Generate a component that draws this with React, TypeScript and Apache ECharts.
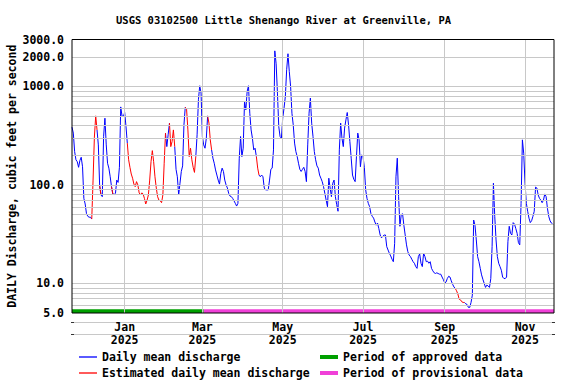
import React, { useEffect, useRef } from 'react';
import * as echarts from 'echarts';

const TITLE = 'USGS 03102500 Little Shenango River at Greenville, PA';
const Y_NAME = 'DAILY Discharge, cubic feet per second';
const START_DATE = '2024-11-22';
const END_DATE = '2025-11-23';

// daily mean discharge (cfs), one value per day starting at START_DATE
const discharge: number[] = [
  386, 336, 218, 180, 172, 151, 177, 191, 153, 73,
  64, 51, 48, 47, 47, 45, 112, 306, 503, 362,
  255, 98, 79, 76, 310, 476, 255, 166, 148, 121,
  96, 81, 80, 82, 112, 106, 151, 620, 500, 495,
  544, 392, 266, 180, 151, 129, 117, 102, 96, 108,
  100, 83, 79, 83, 81, 73, 64, 70, 79, 112,
  172, 223, 172, 121, 93, 76, 70, 69, 66, 79,
  166, 336, 245, 323, 424, 245, 276, 362, 245, 144,
  121, 79, 104, 137, 156, 407, 616, 589, 362, 194,
  236, 180, 151, 134, 194, 323, 733, 1017, 857, 310,
  255, 236, 298, 503, 424, 287, 227, 187, 166, 142,
  126, 112, 102, 131, 148, 137, 112, 100, 93, 82,
  77, 76, 73, 69, 65, 61, 65, 187, 310, 194,
  236, 703, 579, 889, 1017, 535, 362, 298, 227, 236,
  194, 148, 126, 121, 126, 121, 93, 89, 89, 89,
  112, 144, 148, 227, 2300, 1700, 857, 392, 310, 298,
  476, 602, 792, 1480, 2150, 1420, 1000, 535, 407, 266,
  218, 194, 166, 144, 137, 144, 151, 137, 108, 255,
  535, 762, 424, 310, 218, 180, 156, 148, 126, 117,
  108, 96, 82, 70, 60, 117, 93, 76, 104, 112,
  76, 63, 54, 227, 424, 298, 245, 378, 458, 544,
  407, 276, 187, 126, 114, 108, 194, 336, 287, 153,
  202, 194, 150, 89, 73, 65, 60, 51, 48, 46,
  42, 39, 41, 36, 31, 29, 30, 31, 31, 23.6,
  21.8, 20.2, 19, 17.6, 16.6, 25.5, 121, 187, 76, 38,
  50, 51, 39, 31, 24.6, 21, 19.4, 18.7, 17.6, 16.6,
  16, 14.8, 14.2, 18.7, 19.9, 16, 14.8, 20.2, 18.7, 16.6,
  16.8, 16, 16.6, 14.2, 13.4, 12.8, 12.6, 12.8, 12.6, 12.4,
  12.4, 11.6, 10.9, 10.1, 10.3, 11.2, 11.8, 11.6, 10.6, 9.8,
  9.2, 8.9, 8.4, 7.8, 6.9, 6.8, 6.5, 6.4, 6.4, 6.2,
  6.1, 5.7, 5.7, 6.4, 7.6, 44, 39, 27.6, 18.7, 16.6,
  14.2, 12.2, 11, 10, 9.1, 9.6, 9.4, 9.1, 11.2, 23.6,
  104, 48, 27.6, 18.7, 16, 14.8, 13.6, 11.6, 11.2, 11.2,
  11.6, 26.5, 38, 32.2, 31, 41.4, 40, 36, 32.2, 25.9,
  24.6, 65, 287, 210, 104, 65, 54, 46, 41.4, 43.3,
  48, 54, 95, 93, 79, 73, 70, 66, 70, 81,
  76, 58, 48, 43.3, 41, 40,
];

// periods of estimated daily values (inclusive)
const estimatedRanges: [string, string][] = [
  ['2024-12-07', '2024-12-11'],
  ['2024-12-13', '2024-12-14'],
  ['2024-12-22', '2024-12-23'],
  ['2025-01-03', '2025-02-01'],
  ['2025-02-04', '2025-02-08'],
  ['2025-02-16', '2025-02-24'],
  ['2025-03-05', '2025-03-08'],
  ['2025-04-11', '2025-04-13'],
  ['2025-09-09', '2025-09-16'],
];

const approvedPeriod: [string, string] = ['2024-11-22', '2025-03-02'];
const provisionalPeriod: [string, string] = ['2025-03-02', '2025-11-23'];

const monthTicks = ['2025-01-01', '2025-03-01', '2025-05-01', '2025-07-01', '2025-09-01', '2025-11-01'];
const MONTHS = ['Jan', 'Feb', 'Mar', 'Apr', 'May', 'Jun', 'Jul', 'Aug', 'Sep', 'Oct', 'Nov', 'Dec'];

const yLabelValues = [5, 10, 100, 1000, 2000, 3000];
const yGridValues = [
  6, 7, 8, 9, 10, 20, 30, 40, 50, 60, 70, 80, 90,
  100, 200, 300, 400, 500, 600, 700, 800, 900, 1000, 2000,
];

const FONT = 'DejaVu Sans Mono';

function toTime(s: string): number {
  const [y, m, d] = s.split('-').map(Number);
  return new Date(y, m - 1, d).getTime();
}

export default function App() {
  const ref = useRef<HTMLDivElement>(null);

  useEffect(() => {
    if (!ref.current) return;
    const chart = echarts.init(ref.current, null, { renderer: 'svg' });

    const start = toTime(START_DATE);
    const [sy, sm, sd] = START_DATE.split('-').map(Number);
    const times = discharge.map((_, i) => new Date(sy, sm - 1, sd + i).getTime());
    const ranges = estimatedRanges.map(([a, b]) => [toTime(a), toTime(b)]);

    const inRange = (t: number) => ranges.some(([a, b]) => t >= a && t <= b);
    const strictlyInside = (t: number) => ranges.some(([a, b]) => t > a && t < b);

    const blue = times.map((t, i) => [t, strictlyInside(t) ? null : discharge[i]]);
    const red = times.map((t, i) => [t, inRange(t) ? discharge[i] : null]);

    const monthTimes = monthTicks.map(toTime);

    const textBase = { fontFamily: FONT, fontWeight: 'bold' as const, color: '#000', fontSize: 11.5 };

    // light rules under the plot that frame the date labels
    const rule = (y: number) => ({
      type: 'group',
      children: [
        { type: 'line', shape: { x1: 72, y1: y, x2: 554, y2: y }, style: { stroke: '#c8c8c8', lineWidth: 1 } },
        { type: 'line', shape: { x1: 71, y1: y, x2: 74, y2: y }, style: { stroke: '#333', lineWidth: 1 } },
        { type: 'line', shape: { x1: 552, y1: y, x2: 555, y2: y }, style: { stroke: '#333', lineWidth: 1 } },
      ],
    });

    chart.setOption({
      animation: false,
      backgroundColor: '#ffffff',
      title: {
        text: TITLE,
        left: 116,
        top: 13,
        padding: 0,
        textStyle: { fontFamily: FONT, fontWeight: 'bold', color: '#000', fontSize: 10.5, lineHeight: 14 },
      },
      grid: {
        left: 72,
        top: 39.5,
        width: 482,
        height: 273.5,
        show: true,
        borderColor: '#000',
        borderWidth: 1,
        backgroundColor: 'transparent',
        containLabel: false,
        outerBoundsMode: 'none',
        z: 10,
      },
      graphic: [rule(322.5), rule(334.5)],
      legend: [
        {
          left: 79,
          top: 350,
          orient: 'vertical',
          icon: 'rect',
          itemWidth: 18,
          itemHeight: 1.3,
          itemGap: 2,
          padding: 0,
          selectedMode: false,
          data: ['Daily mean discharge', 'Estimated daily mean discharge'],
          textStyle: { ...textBase, lineHeight: 14 },
        },
        {
          left: 320,
          top: 350,
          orient: 'vertical',
          icon: 'rect',
          itemWidth: 18,
          itemHeight: 4,
          itemGap: 2,
          padding: 0,
          selectedMode: false,
          data: ['Period of approved data', 'Period of provisional data'],
          textStyle: { ...textBase, lineHeight: 14 },
        },
      ],
      xAxis: {
        type: 'value',
        min: start,
        max: toTime(END_DATE),
        axisLine: { show: false },
        axisTick: { show: false },
        splitLine: { show: false },
        z: 20,
        axisLabel: {
          customValues: monthTimes,
          ...textBase,
          lineHeight: 13,
          margin: 7,
          formatter: (v: number) => {
            const d = new Date(v);
            return MONTHS[d.getMonth()] + '\n' + d.getFullYear();
          },
        },
      },
      yAxis: {
        type: 'log',
        logBase: 10,
        min: 5,
        max: 3000,
        name: Y_NAME,
        nameLocation: 'middle',
        nameGap: 54,
        nameMoveOverlap: false,
        nameTextStyle: { ...textBase },
        axisLine: { show: false },
        axisTick: { show: false },
        splitLine: { show: false },
        axisLabel: {
          customValues: yLabelValues,
          ...textBase,
          margin: 8,
          formatter: (v: number) => Number(v).toFixed(1),
        },
      },
      series: [
        {
          name: 'grid',
          type: 'line',
          data: [],
          silent: true,
          z: 1,
          markLine: {
            silent: true,
            symbol: ['none', 'none'],
            label: { show: false },
            lineStyle: { color: '#c8c8c8', type: 'solid', width: 1 },
            data: [
              ...yGridValues.map((v) => ({ yAxis: v })),
              ...monthTimes.map((t) => ({ xAxis: t })),
            ],
          },
        },
        {
          name: 'Period of approved data',
          type: 'line',
          data: [],
          color: '#00a000',
          itemStyle: { color: '#00a000' },
          lineStyle: { color: '#00a000' },
          z: 2,
          markArea: {
            silent: true,
            itemStyle: { color: '#00a000' },
            data: [[{ xAxis: toTime(approvedPeriod[0]), yAxis: 5 }, { xAxis: toTime(approvedPeriod[1]), yAxis: 5.45 }]],
          },
        },
        {
          name: 'Period of provisional data',
          type: 'line',
          data: [],
          color: '#f040d8',
          itemStyle: { color: '#f040d8' },
          lineStyle: { color: '#f040d8' },
          z: 2,
          markArea: {
            silent: true,
            itemStyle: { color: '#f040d8' },
            data: [[{ xAxis: toTime(provisionalPeriod[0]), yAxis: 5 }, { xAxis: toTime(provisionalPeriod[1]), yAxis: 5.45 }]],
          },
        },
        {
          name: 'Daily mean discharge',
          type: 'line',
          data: blue,
          color: '#0000ff',
          showSymbol: false,
          symbol: 'none',
          connectNulls: false,
          lineStyle: { color: '#0000ff', width: 1 },
          z: 3,
        },
        {
          name: 'Estimated daily mean discharge',
          type: 'line',
          data: red,
          color: '#ff0000',
          showSymbol: false,
          symbol: 'none',
          connectNulls: false,
          lineStyle: { color: '#ff0000', width: 1 },
          z: 4,
        },
      ],
    });

    return () => chart.dispose();
  }, []);

  return <div ref={ref} style={{ position: 'absolute', left: 0, top: 0, width: 576, height: 384 }} />;
}
